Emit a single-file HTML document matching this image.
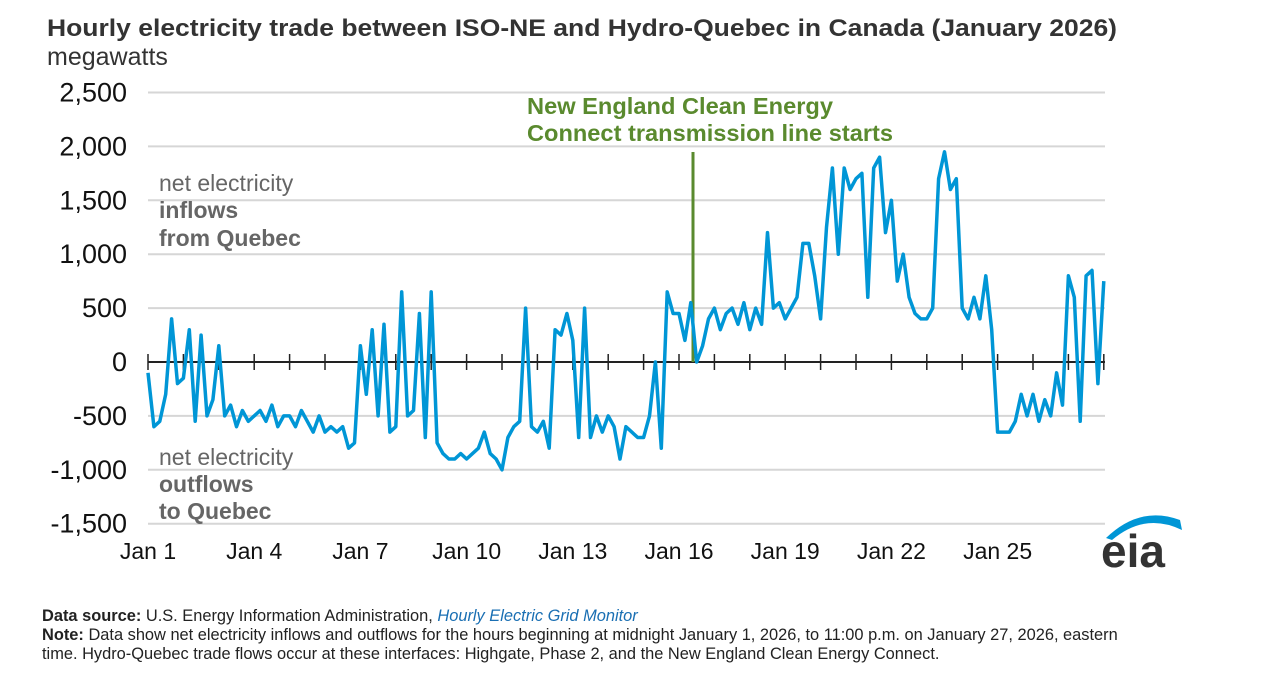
<!DOCTYPE html>
<html><head><meta charset="utf-8"><style>
body{margin:0;background:#fff;font-family:"Liberation Sans",Arial,sans-serif;}
#wrap{position:relative;width:1275px;height:683px;overflow:hidden;}
svg text{font-family:"Liberation Sans",Arial,sans-serif;}
</style></head><body>
<div id="wrap">
<svg id="chart" width="1275" height="683">
<text x="47" y="36" font-size="24" font-weight="bold" fill="#333" textLength="1070" lengthAdjust="spacingAndGlyphs">Hourly electricity trade between ISO-NE and Hydro-Quebec in Canada (January 2026)</text>
<text x="47" y="65" font-size="25" fill="#333">megawatts</text>
<g id="grid"></g><g id="yticks"></g><g id="xticks"></g>
<text x="527" y="114" font-size="23" font-weight="bold" fill="#5a8a2e" textLength="306" lengthAdjust="spacingAndGlyphs">New England Clean Energy</text>
<text x="527" y="141" font-size="23" font-weight="bold" fill="#5a8a2e" textLength="366" lengthAdjust="spacingAndGlyphs">Connect transmission line starts</text>
<line x1="693" y1="152" x2="693" y2="362" stroke="#5a8a2e" stroke-width="3"/>
<g font-size="23" fill="#666">
<text x="159" y="191">net electricity</text>
<text x="159" y="218" font-weight="bold">inflows</text>
<text x="159" y="246" font-weight="bold">from Quebec</text>
<text x="159" y="465">net electricity</text>
<text x="159" y="492" font-weight="bold">outflows</text>
<text x="159" y="519" font-weight="bold">to Quebec</text>
</g>
<path id="series" fill="none" stroke="#0096d6" stroke-width="3.5" stroke-linejoin="round"/>
<g>
<path d="M1106 538 Q1140 505 1180 520 L1182 530 Q1145 512 1112 540 Z" fill="#0096d6"/>
<text x="1101" y="567" font-size="46" font-weight="bold" fill="#333">eia</text>
</g>
<g font-size="16.4" fill="#222">
<text x="42" y="621"><tspan font-weight="bold">Data source:</tspan> U.S. Energy Information Administration, <tspan font-style="italic" fill="#1a6fb3">Hourly Electric Grid Monitor</tspan></text>
<text x="42" y="640"><tspan font-weight="bold">Note:</tspan> Data show net electricity inflows and outflows for the hours beginning at midnight January 1, 2026, to 11:00 p.m. on January 27, 2026, eastern</text>
<text x="42" y="659">time. Hydro-Quebec trade flows occur at these interfaces: Highgate, Phase 2, and the New England Clean Energy Connect.</text>
</g>
</svg></div>
<script>
const yTicks=[2500,2000,1500,1000,500,0,-500,-1000,-1500];
const yTickLabels=["2,500","2,000","1,500","1,000","500","0","-500","-1,000","-1,500"];
const xTickDays=[1,4,7,10,13,16,19,22,25];
const xTickLabels=["Jan 1","Jan 4","Jan 7","Jan 10","Jan 13","Jan 16","Jan 19","Jan 22","Jan 25"];
const stepHours=4;
const netTrade=[
-100,-600,-550,-300,400,-200,
-150,300,-550,250,-500,-350,
150,-500,-400,-600,-450,-550,
-500,-450,-550,-400,-600,-500,
-500,-600,-450,-550,-650,-500,
-650,-600,-650,-600,-800,-750,
150,-300,300,-500,350,-650,
-600,650,-500,-450,450,-700,
650,-750,-850,-900,-900,-850,
-900,-850,-800,-650,-850,-900,
-1000,-700,-600,-550,500,-600,
-650,-550,-800,300,250,450,
200,-700,500,-700,-500,-650,
-500,-600,-900,-600,-650,-700,
-700,-500,0,-800,650,450,
450,200,550,0,150,400,
500,300,450,500,350,550,
300,500,350,1200,500,550,
400,500,600,1100,1100,800,
400,1250,1800,1000,1800,1600,
1700,1750,600,1800,1900,1200,
1500,750,1000,600,450,400,
400,500,1700,1950,1600,1700,
500,400,600,400,800,300,
-650,-650,-650,-550,-300,-500,
-300,-550,-350,-500,-100,-400,
800,600,-550,800,850,-200,750];
const X0=148,DAYPX=35.4,Y0=362,PX500=53.9,XR=1105;
const xs=h=>X0+h*DAYPX/24;
const ys=v=>Y0-v*PX500/500;
const NS="http://www.w3.org/2000/svg";
const grid=document.getElementById('grid'),yt=document.getElementById('yticks'),xt=document.getElementById('xticks');
yTicks.forEach((v,i)=>{
 const l=document.createElementNS(NS,'line');
 l.setAttribute('x1',X0);l.setAttribute('x2',XR);l.setAttribute('y1',ys(v));l.setAttribute('y2',ys(v));
 l.setAttribute('stroke',v===0?'#222':'#d6d6d6');l.setAttribute('stroke-width',2);
 
 
 grid.appendChild(l);
 const t=document.createElementNS(NS,'text');
 t.setAttribute('x',127);t.setAttribute('y',ys(v)+9);t.setAttribute('text-anchor','end');
 t.setAttribute('font-size','27');t.setAttribute('fill','#111');t.textContent=yTickLabels[i];
 
 
 yt.appendChild(t);
});
for(let d=0;d<=27;d++){
 const l=document.createElementNS(NS,'line');
 l.setAttribute('x1',xs(d*24));l.setAttribute('x2',xs(d*24));l.setAttribute('y1',Y0-8);l.setAttribute('y2',Y0+8);
 l.setAttribute('stroke','#222');l.setAttribute('stroke-width',1.5);
 
 
 xt.appendChild(l);
}
xTickDays.forEach((d,i)=>{
 const t=document.createElementNS(NS,'text');
 t.setAttribute('x',xs((d-1)*24));t.setAttribute('y',559);t.setAttribute('text-anchor','middle');
 t.setAttribute('font-size','23');t.setAttribute('fill','#111');t.textContent=xTickLabels[i];
 
 
 xt.appendChild(t);
});
document.getElementById('series').setAttribute('d',netTrade.map((v,i)=>(i?'L':'M')+xs(i*stepHours).toFixed(1)+' '+ys(v).toFixed(1)).join(' '));
</script>
</body></html>
